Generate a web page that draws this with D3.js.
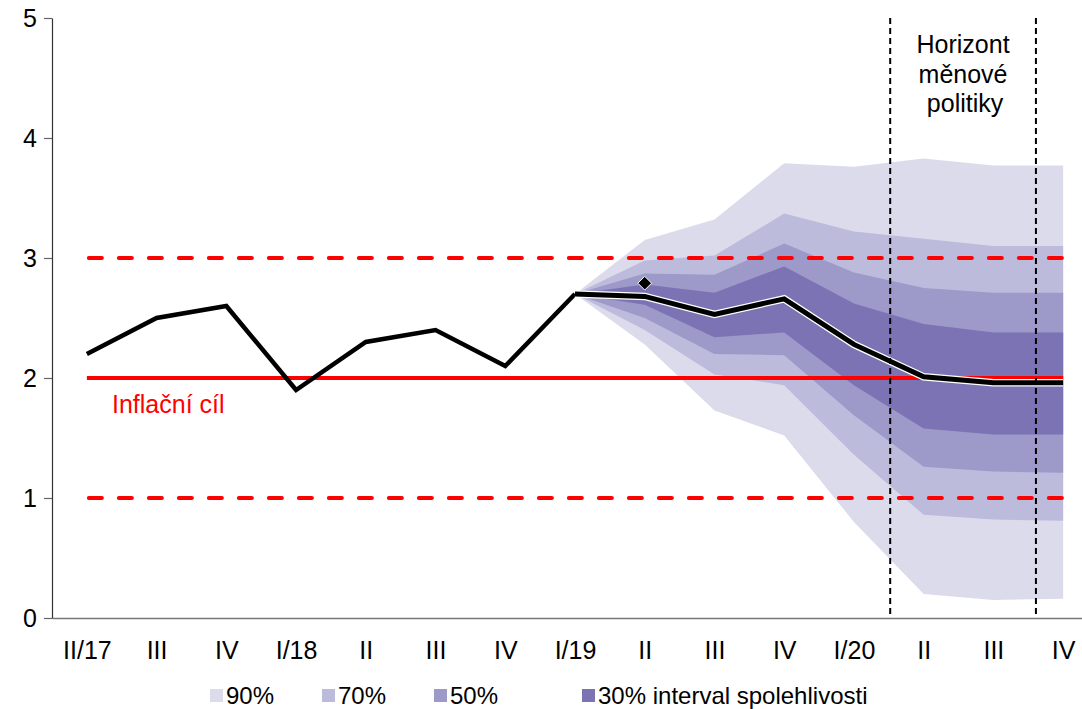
<!DOCTYPE html>
<html>
<head>
<meta charset="utf-8">
<script src="https://cdn.jsdelivr.net/npm/d3@7"></script>
<style>
  html, body { margin: 0; padding: 0; background: #fff; }
  svg { display: block; font-family: "Liberation Sans", Arial, sans-serif; }
</style>
</head>
<body>
<svg id="chart" width="1082" height="709"></svg>
<script>
// ---- data ----
const categories = ["II/17","III","IV","I/18","II","III","IV","I/19","II","III","IV","I/20","II","III","IV"];
const yTicks = [0, 1, 2, 3, 4, 5];
const history = [2.2, 2.5, 2.6, 1.9, 2.3, 2.4, 2.1, 2.7];           // II/17 .. I/19
const forecastStart = 7;                                             // I/19
const forecast = [2.7, 2.68, 2.53, 2.66, 2.28, 2.01, 1.96, 1.96];   // I/19 .. IV/20
const upper90 = [2.7, 3.15, 3.32, 3.79, 3.76, 3.83, 3.77, 3.77];
const upper70 = [2.7, 2.98, 3.02, 3.37, 3.22, 3.16, 3.10, 3.10];
const upper50 = [2.7, 2.87, 2.86, 3.12, 2.88, 2.75, 2.71, 2.71];
const upper30 = [2.7, 2.78, 2.71, 2.93, 2.62, 2.45, 2.38, 2.38];
const lower30 = [2.7, 2.61, 2.34, 2.38, 1.94, 1.58, 1.53, 1.53];
const lower50 = [2.7, 2.50, 2.20, 2.19, 1.69, 1.26, 1.22, 1.21];
const lower70 = [2.7, 2.40, 2.03, 1.94, 1.36, 0.86, 0.82, 0.81];
const lower90 = [2.7, 2.28, 1.73, 1.52, 0.80, 0.20, 0.15, 0.16];
const previousForecast = [{ idx: 8, value: 2.79 }];                  // diamond at II/19
const target = 2;
const toleranceBand = [1, 3];
const horizonMarks = [11.52, 13.61];                                 // in category-index units
const horizonLabel = ["Horizont", "měnové", "politiky"];
const targetLabel = "Inflační cíl";
const legendLabels = ["90%", "70%", "50%", "30% interval spolehlivosti"];
const bandColors = ["#dcdbeb", "#bcbbdc", "#9d99c9", "#7b73b4"];

// ---- scales ----
const svg = d3.select("#chart");
const x = d3.scaleLinear().domain([-0.5, categories.length - 0.5]).range([52, 1098]);
const y = d3.scaleLinear().domain([0, 5]).range([618, 18]);
const FONT = 25;

// ---- fan bands ----
const bands = [
  { up: upper90, lo: lower90, color: bandColors[0] },
  { up: upper70, lo: lower70, color: bandColors[1] },
  { up: upper50, lo: lower50, color: bandColors[2] },
  { up: upper30, lo: lower30, color: bandColors[3] }
];
const area = d3.area()
  .x(d => x(d.i))
  .y0(d => y(d.lo))
  .y1(d => y(d.up));
bands.forEach(b => {
  const pts = b.up.map((u, k) => ({ i: forecastStart + k, up: u, lo: b.lo[k] }));
  svg.append("path").datum(pts).attr("d", area).attr("fill", b.color);
});

// ---- axes ----
const xAxis = d3.axisBottom(x)
  .tickValues(d3.range(categories.length))
  .tickFormat(i => categories[i])
  .tickSize(0).tickSizeOuter(0).tickPadding(0);
const gx = svg.append("g").attr("transform", `translate(0,${y(0)})`).call(xAxis);
gx.select(".domain").attr("stroke", "#777").attr("stroke-width", 1.3);
gx.selectAll("text").attr("font-size", FONT).attr("fill", "#000")
  .attr("dy", null).attr("y", 41).attr("font-family", "Liberation Sans, Arial, sans-serif");

const yAxis = d3.axisLeft(y).tickValues(yTicks).tickFormat(d3.format("d"))
  .tickSize(8).tickSizeOuter(0).tickPadding(12);
const gy = svg.append("g").attr("transform", `translate(${x(-0.5)},0)`).call(yAxis);
gy.select(".domain").attr("stroke", "#333").attr("stroke-width", 1.2);
gy.selectAll(".tick line").attr("stroke", "#666").attr("stroke-width", 1.2);
gy.selectAll("text").attr("font-size", FONT).attr("fill", "#000")
  .attr("font-family", "Liberation Sans, Arial, sans-serif").attr("x", -15);

// ---- target & tolerance band ----
const x0 = x(0), x1 = x(categories.length - 1);
svg.append("line").attr("x1", x0).attr("x2", x1)
  .attr("y1", y(target)).attr("y2", y(target))
  .attr("stroke", "#ff0000").attr("stroke-width", 4);
toleranceBand.forEach(v => {
  svg.append("line").attr("x1", x0 + 2).attr("x2", x1)
    .attr("y1", y(v)).attr("y2", y(v))
    .attr("stroke", "#ff0000").attr("stroke-width", 4)
    .attr("stroke-dasharray", "13,17").attr("stroke-linecap", "round");
});
svg.append("text").attr("x", 112).attr("y", y(target) + 35)
  .attr("font-size", FONT).attr("fill", "#ff0000").text(targetLabel);

// ---- lines ----
const line = d3.line().x(d => x(d.i)).y(d => y(d.v));
const histPts = history.map((v, i) => ({ i, v }));
svg.append("path").datum(histPts).attr("d", line)
  .attr("fill", "none").attr("stroke", "#000").attr("stroke-width", 4.5)
  .attr("stroke-linejoin", "miter");
const fcPts = forecast.map((v, k) => ({ i: forecastStart + k, v }));
svg.append("path").datum(fcPts).attr("d", line)
  .attr("fill", "none").attr("stroke", "#fff").attr("stroke-width", 7.5);
svg.append("path").datum(fcPts).attr("d", line)
  .attr("fill", "none").attr("stroke", "#000").attr("stroke-width", 5);

// ---- previous forecast diamond ----
svg.selectAll(".diamond").data(previousForecast).enter().append("path")
  .attr("d", d3.symbol().type(d3.symbolDiamond2).size(120))
  .attr("transform", d => `translate(${x(d.idx)},${y(d.value)})`)
  .attr("fill", "#000").attr("stroke", "#fff").attr("stroke-width", 1);

// ---- policy horizon ----
horizonMarks.forEach(m => {
  svg.append("line").attr("x1", x(m)).attr("x2", x(m))
    .attr("y1", y(5)).attr("y2", y(0))
    .attr("stroke", "#000").attr("stroke-width", 2)
    .attr("stroke-dasharray", "6,4");
});
const hx = (x(horizonMarks[0]) + x(horizonMarks[1])) / 2;
horizonLabel.forEach((t, k) => {
  svg.append("text").attr("x", hx + (k === 2 ? 2 : 0)).attr("y", 53 + k * 29.5)
    .attr("text-anchor", "middle").attr("font-size", FONT).attr("fill", "#000").text(t);
});

// ---- legend ----
const legendX = [210, 322, 434, 582];
const lg = svg.append("g");
legendLabels.forEach((t, k) => {
  lg.append("rect").attr("x", legendX[k]).attr("y", 689).attr("width", 13).attr("height", 13)
    .attr("fill", bandColors[k]);
  lg.append("text").attr("x", legendX[k] + 16).attr("y", 704)
    .attr("font-size", 24).attr("fill", "#000").text(t);
});
</script>
</body>
</html>
